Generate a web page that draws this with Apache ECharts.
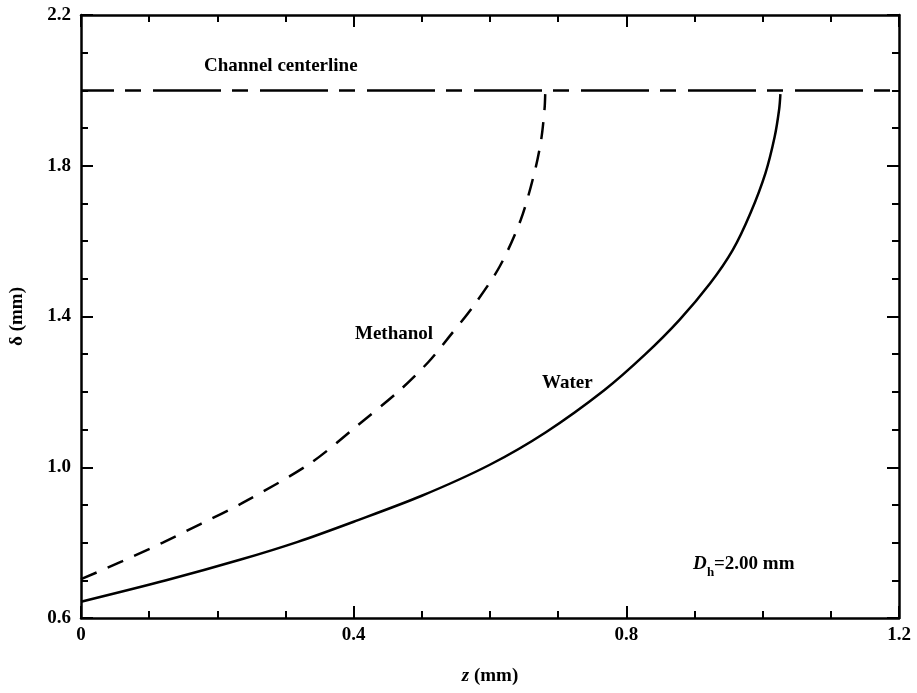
<!DOCTYPE html>
<html>
<head>
<meta charset="utf-8">
<script src="https://cdn.jsdelivr.net/npm/echarts@6/dist/echarts.min.js"></script>
<style>
html,body{margin:0;padding:0;background:#fff;}
#chart{width:917px;height:693px;}
</style>
</head>
<body>
<div id="chart"></div>
<script>
// ---- data ----
var waterZ     = [0, 0.125, 0.2356, 0.318, 0.400, 0.499, 0.599, 0.682, 0.768, 0.828, 0.878, 0.923, 0.956, 0.982, 1.004, 1.0176, 1.0242, 1.026];
var waterDelta = [0.643, 0.70, 0.7557, 0.802, 0.8555, 0.9237, 1.006, 1.093, 1.205, 1.30, 1.391, 1.488, 1.576, 1.674, 1.78, 1.877, 1.95, 1.99];

var methanolZ     = [0, 0.06, 0.12, 0.176, 0.2356, 0.336, 0.405, 0.468, 0.51, 0.54, 0.575, 0.614, 0.645, 0.665, 0.675, 0.680, 0.681];
var methanolDelta = [0.703, 0.75, 0.80, 0.85, 0.904, 1.01, 1.11, 1.205, 1.28, 1.346, 1.426, 1.532, 1.656, 1.78, 1.868, 1.95, 1.99];

var centerlineZ = [0, 1.2];
var centerlineDelta = 2.0;

var xTicks = [0, 0.4, 0.8, 1.2];
var yTicks = [0.6, 1.0, 1.4, 1.8, 2.2];
var xMin = 0, xMax = 1.2, yMin = 0.6, yMax = 2.2;

var FONT = '"Liberation Serif", "Times New Roman", serif';

function pairs(xs, ys) { return xs.map(function (x, i) { return [x, Array.isArray(ys) ? ys[i] : ys]; }); }

var chart = echarts.init(document.getElementById('chart'), null, {renderer: 'canvas'});

var axisLine = {show: true, onZero: false, lineStyle: {color: '#000', width: 2.5}};
var majorTick = {show: true, inside: true, length: 12, lineStyle: {color: '#000', width: 2}};
var minorTick = {show: true, splitNumber: 4, length: 7, lineStyle: {color: '#000', width: 2}};
var labelStyle = {color: '#000', fontFamily: FONT, fontWeight: 'bold', fontSize: 19};

var option = {
  animation: false,
  backgroundColor: '#fff',
  grid: {left: 79, right: 18, top: 15, bottom: 75, containLabel: false},
  xAxis: [
    {
      type: 'value', position: 'bottom', min: xMin, max: xMax, interval: 0.4,
      axisLine: axisLine, axisTick: majorTick, minorTick: minorTick,
      splitLine: {show: false}, minorSplitLine: {show: false},
      axisLabel: Object.assign({margin: 8, formatter: function (v) { return v === 0 ? '0' : v.toFixed(1); }}, labelStyle),
      name: '{i|z} (mm)', nameLocation: 'middle', nameGap: 49,
      nameTextStyle: {color: '#000', fontFamily: FONT, fontWeight: 'bold', fontSize: 19,
        rich: {i: {fontStyle: 'italic', fontFamily: FONT, fontWeight: 'bold', fontSize: 19, color: '#000'}}}
    },
    {
      type: 'value', position: 'top', min: xMin, max: xMax, interval: 0.4,
      axisLine: axisLine, axisTick: majorTick, minorTick: minorTick,
      splitLine: {show: false}, minorSplitLine: {show: false},
      axisLabel: {show: false}
    }
  ],
  yAxis: [
    {
      type: 'value', min: yMin, max: yMax, show: false,
      splitLine: {show: false}
    },
    {
      type: 'value', position: 'left', min: 0, max: yMax - yMin, interval: 0.4,
      axisLine: axisLine, axisTick: majorTick, minorTick: minorTick,
      splitLine: {show: false}, minorSplitLine: {show: false},
      axisLabel: Object.assign({margin: 10, formatter: function (v) { return (v + yMin).toFixed(1); }}, labelStyle),
      name: 'δ (mm)', nameLocation: 'middle', nameGap: 54,
      nameTextStyle: {color: '#000', fontFamily: FONT, fontWeight: 'bold', fontSize: 19}
    },
    {
      type: 'value', position: 'right', min: 0, max: yMax - yMin, interval: 0.4,
      axisLine: axisLine, axisTick: majorTick, minorTick: minorTick,
      splitLine: {show: false}, minorSplitLine: {show: false},
      axisLabel: {show: false}
    }
  ],
  series: [
    {
      name: 'Channel centerline', type: 'line', xAxisIndex: 0, yAxisIndex: 0,
      data: pairs(centerlineZ, centerlineDelta), symbol: 'none', silent: true,
      lineStyle: {color: '#000', width: 2.5, type: [68, 11, 16, 12], dashOffset: 35}
    },
    {
      name: 'Methanol', type: 'line', xAxisIndex: 0, yAxisIndex: 0,
      data: pairs(methanolZ, methanolDelta), symbol: 'none', smooth: 0.3,
      lineStyle: {color: '#000', width: 2.5, type: [17, 12]}
    },
    {
      name: 'Water', type: 'line', xAxisIndex: 0, yAxisIndex: 0,
      data: pairs(waterZ, waterDelta), symbol: 'none', smooth: 0.3,
      lineStyle: {color: '#000', width: 2.5}
    }
  ],
  graphic: [
    {type: 'text', left: 204, top: 57, style: {text: 'Channel centerline', font: 'bold 19px ' + FONT, fill: '#000'}},
    {type: 'text', left: 355, top: 325, style: {text: 'Methanol', font: 'bold 19px ' + FONT, fill: '#000'}},
    {type: 'text', left: 542, top: 374, style: {text: 'Water', font: 'bold 19px ' + FONT, fill: '#000'}},
    {type: 'text', left: 693, top: 555, style: {text: 'D', font: 'italic bold 19px ' + FONT, fill: '#000'}},
    {type: 'text', left: 707, top: 566, style: {text: 'h', font: 'bold 13px ' + FONT, fill: '#000'}},
    {type: 'text', left: 714, top: 555, style: {text: '=2.00 mm', font: 'bold 19px ' + FONT, fill: '#000'}}
  ]
};
chart.setOption(option);
</script>
</body>
</html>
